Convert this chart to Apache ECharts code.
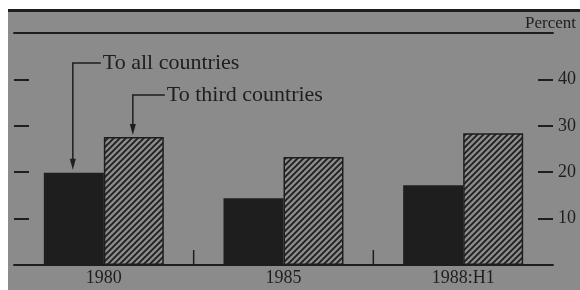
<!DOCTYPE html>
<html>
<head>
<meta charset="utf-8">
<script src="https://cdn.jsdelivr.net/npm/echarts@6/dist/echarts.min.js"></script>
<style>
  html, body { margin: 0; padding: 0; background: #fff; }
  #chart { width: 580px; height: 290px; }
</style>
</head>
<body>
<div id="chart"></div>
<script>
// chart data
var categories = ['1980', '1985', '1988:H1'];
var allCountries = [19.9, 14.4, 17.2];
var thirdCountries = [27.6, 23.3, 28.4];
var yMax = 50;
var yStep = 10;
var labelAll = 'To all countries';
var labelThird = 'To third countries';

var gray = '#8b8b8b';
var dark = '#1e1e1e';
var serif = '"Liberation Serif", "DejaVu Serif", serif';
var barW = 60;

// diagonal hatch for the second series
function hatch() {
  var c = document.createElement('canvas');
  c.width = 6;
  c.height = 6;
  var ctx = c.getContext('2d');
  ctx.fillStyle = gray;
  ctx.fillRect(0, 0, 6, 6);
  ctx.strokeStyle = dark;
  ctx.lineWidth = 1.8;
  ctx.beginPath();
  ctx.moveTo(-1, 7); ctx.lineTo(7, -1);
  ctx.moveTo(-4, 4); ctx.lineTo(4, -4);
  ctx.moveTo(2, 10); ctx.lineTo(10, 2);
  ctx.stroke();
  return c;
}

var chart = echarts.init(document.getElementById('chart'), null, { renderer: 'canvas' });

var yAxisBase = {
  type: 'value',
  min: 0,
  max: yMax,
  interval: yStep,
  axisLine: { show: false },
  axisTick: { show: true, inside: true, length: 15, lineStyle: { color: dark, width: 2 } },
  splitLine: { show: false }
};

var option = {
  animation: false,
  grid: { left: 14, right: 27, top: 33, bottom: 25, containLabel: false },
  xAxis: [
    {
      type: 'category',
      data: categories,
      position: 'bottom',
      axisLine: { onZero: false, lineStyle: { color: dark, width: 2 } },
      axisTick: { show: false },
      axisLabel: { color: dark, fontSize: 18, fontFamily: serif, margin: 4 }
    },
    {
      type: 'category',
      data: categories,
      position: 'top',
      axisLine: { show: true, onZero: false, lineStyle: { color: dark, width: 2 } },
      axisTick: { show: false },
      axisLabel: { show: false }
    }
  ],
  yAxis: [
    Object.assign({}, yAxisBase, { position: 'left', axisLabel: { show: false } }),
    Object.assign({}, yAxisBase, {
      position: 'right',
      axisLabel: {
        color: dark, fontSize: 18, fontFamily: serif, margin: 5,
        formatter: function (v) { return (v === 0 || v === yMax) ? '' : String(v); }
      }
    })
  ],
  series: [
    {
      name: labelAll,
      type: 'bar',
      barWidth: barW,
      barGap: '0%',
      data: allCountries,
      itemStyle: { color: dark }
    },
    {
      name: labelThird,
      type: 'bar',
      barWidth: barW,
      barGap: '0%',
      data: thirdCountries,
      itemStyle: { color: { image: hatch(), repeat: 'repeat' }, borderColor: dark, borderWidth: 1.5 }
    }
  ]
};
chart.setOption(option);

// annotations and separators from the axis scales
function px(i, v) {
  return chart.convertToPixel({ xAxisIndex: 0, yAxisIndex: 0 }, [i, v]);
}

function arrow(x, y0, y1, tx, ty, text) {
  return [
    { type: 'polyline', silent: true, z: 10,
      shape: { points: [[tx - 2, y0], [x, y0], [x, y1 - 9]] },
      style: { stroke: dark, lineWidth: 1.5, fill: null } },
    { type: 'polygon', silent: true, z: 10,
      shape: { points: [[x - 3, y1 - 11], [x + 3, y1 - 11], [x, y1]] },
      style: { fill: dark } },
    { type: 'text', silent: true, z: 10, x: tx, y: ty,
      style: { text: text, fill: dark, font: '22px ' + serif, textVerticalAlign: 'middle' } }
  ];
}

var base = px(0, 0);
var top50 = px(0, yMax);
var graphics = [
  { type: 'rect', silent: true, z: -10,
    shape: { x: 8, y: 9, width: 572, height: 281 },
    style: { fill: gray } },
  { type: 'line', silent: true, z: 10,
    shape: { x1: 8, y1: 10.5, x2: 580, y2: 10.5 },
    style: { stroke: dark, lineWidth: 3 } },
  { type: 'text', silent: true, z: 10, right: 4, top: 15,
    style: { text: 'Percent', fill: dark, font: '17px ' + serif } }
];

for (var i = 0; i < categories.length - 1; i++) {
  var a = px(i, 0)[0];
  var b = px(i + 1, 0)[0];
  var mx = (a + b) / 2;
  graphics.push({ type: 'line', silent: true, z: 10,
    shape: { x1: mx, y1: base[1] - 15, x2: mx, y2: base[1] },
    style: { stroke: dark, lineWidth: 1.5 } });
}

var pAll = px(0, allCountries[0]);
var pThird = px(0, thirdCountries[0]);
var xAll = pAll[0] - barW / 2 - 1;
var xThird = pThird[0] + barW / 2 - 1;
graphics = graphics.concat(arrow(xAll, top50[1] + 30, pAll[1] - 3, xAll + 30, top50[1] + 30, labelAll));
graphics = graphics.concat(arrow(xThird, top50[1] + 62, pThird[1] - 2, xThird + 34, top50[1] + 62, labelThird));

chart.setOption({ graphic: graphics });
</script>
</body>
</html>
